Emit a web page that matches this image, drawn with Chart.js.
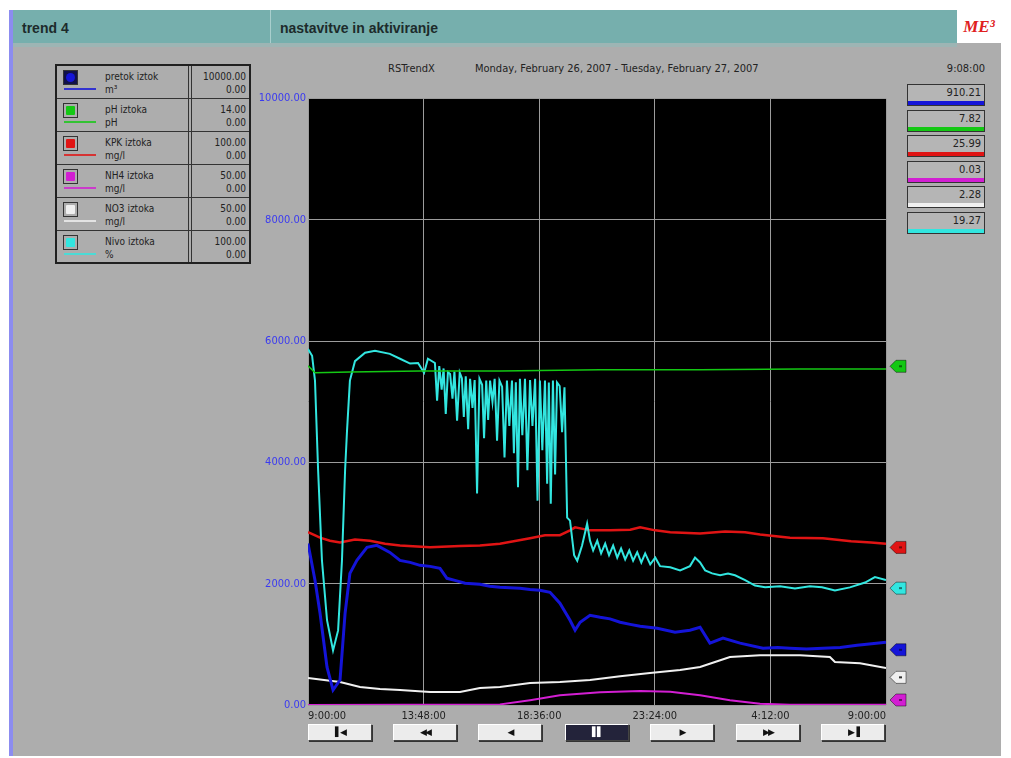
<!DOCTYPE html>
<html>
<head>
<meta charset="utf-8">
<script src="https://cdn.jsdelivr.net/npm/chart.js@4.4.1/dist/chart.umd.min.js"></script>
<style>
  html, body { margin: 0; padding: 0; background: #fff; }
  body { width: 1011px; height: 758px; position: relative; overflow: hidden;
         font-family: "Liberation Sans Narrow", "DejaVu Sans Condensed", "Liberation Sans", sans-serif; }
  #screen { position: absolute; left: 9px; top: 10px; width: 992px; height: 746px; background: #adadad; }
  #stripe { position: absolute; left: 9px; top: 10px; width: 4px; height: 746px; background: #8c8cf0; }
  #head { position: absolute; left: 13px; top: 10px; width: 944px; height: 33px; background: #76afad;
          border-bottom: 4px solid #9db5b4; }
  #head .cell { position: absolute; top: 0; height: 33px; font: bold 14px "Liberation Sans", Arial, sans-serif;
                line-height: 36px; color: #1d2b2b; }
  #divider { position: absolute; left: 257px; top: 0; width: 1px; height: 33px; background: #a9cfcd; }
  #logo { position: absolute; left: 957px; top: 10px; width: 44px; height: 33px; background: #fff;
          color: #e02020; font: italic bold 17px "Liberation Serif", serif; line-height: 33px; text-align: center; }
  #legend { position: absolute; left: 55px; top: 64px; width: 192px; height: 196px; border: 2px solid #202020; }
  .row { position: absolute; left: 0; width: 192px; height: 33px; border-bottom: 1px solid #333; box-sizing: border-box; }
  .row .ico { position: absolute; left: 6px; top: 4px; width: 13px; height: 13px; border: 1px solid #333; }
  .row .ln { position: absolute; left: 7px; top: 22px; width: 32px; height: 2px; }
  .row .t { position: absolute; left: 48px; font-size: 10px; color: #222; line-height: 11px; }
  .row .v { position: absolute; right: 3px; font-size: 10px; color: #222; line-height: 11px; text-align: right; }
  #sep { position: absolute; left: 131px; top: 0; width: 2px; height: 196px; border-left: 1px solid #333; border-right: 1px solid #333; }
  .vbox { position: absolute; left: 907px; width: 76px; height: 20px; border: 1px solid #333; background: #b5b5b5; }
  .vbox span { position: absolute; right: 3px; top: 1px; font-size: 11px; color: #222; }
  .vbox i { position: absolute; left: 0; right: 0; bottom: 0; height: 4px; }
  #chartWrap { position: absolute; left: 240px; top: 90px; width: 700px; height: 652px; }
  .btn { position: absolute; top: 724px; width: 62px; height: 15px; background: #ececec;
         border: 1px solid #444; border-top-color: #fff; border-left-color: #fff; box-shadow: 1px 1px 0 #333;
         font: 9px "DejaVu Sans", sans-serif; line-height: 15px; text-align: center; color: #111; letter-spacing: -2px; }
  .btn.dark { background: #23233a; color: #fff; }
</style>
</head>
<body>
<div id="screen"></div>
<div id="stripe"></div>
<div id="head">
  <div class="cell" style="left:9px">trend 4</div>
  <div id="divider"></div>
  <div class="cell" style="left:267px">nastavitve in aktiviranje</div>
</div>
<div id="logo">ME³</div>
<div id="legend"><div id="sep"></div></div>
<div style="position:absolute;left:388px;top:62px;font-size:11px;color:#222">RSTrendX</div>
<div style="position:absolute;left:475px;top:62px;font-size:11px;color:#222">Monday, February 26, 2007 - Tuesday, February 27, 2007</div>
<div style="position:absolute;left:930px;top:62px;width:55px;text-align:right;font-size:11px;color:#222">9:08:00</div>
<div id="boxes"></div>
<div id="chartWrap"><canvas id="trend"></canvas></div>
<div id="buttons"></div>

<script>
// vrednosti odčitane s slike (čas v urah od 9:00:00)
const tickHours = [0, 4.8, 9.6, 14.4, 19.2, 24];
const tickLabels = ['9:00:00', '13:48:00', '18:36:00', '23:24:00', '4:12:00', '9:00:00'];
const yTicks = [0, 2000, 4000, 6000, 8000, 10000];

const seriesNames = ['pretok iztok', 'pH iztoka', 'KPK iztoka', 'NH4 iztoka', 'NO3 iztoka', 'Nivo iztoka'];
const seriesUnits = ['m³', 'pH', 'mg/l', 'mg/l', 'mg/l', '%'];
const seriesMax = [10000, 14, 100, 50, 50, 100];
const seriesMin = [0, 0, 0, 0, 0, 0];
const currentValues = [910.21, 7.82, 25.99, 0.03, 2.28, 19.27];
const seriesColors = ['#1414d8', '#14c814', '#e01414', '#d21ed2', '#f0f0f0', '#32e6e0'];

const pretokT = [0, 0.29, 0.5, 0.79, 1.04, 1.33, 1.54, 1.74, 2.03, 2.45, 2.86, 3.4, 3.82, 4.24, 4.65, 5.07, 5.48, 5.77, 6.1, 6.52, 7.14, 7.55, 7.97, 8.38, 8.8, 9.22, 9.63, 10.05, 10.46, 10.88, 11.09, 11.3, 11.71, 12.13, 12.54, 12.96, 13.38, 13.79, 14.5, 15.24, 15.86, 16.28, 16.69, 17.23, 17.94, 18.89, 19.5, 20.01, 20.7, 21.38, 22.1, 22.8, 23.4, 24];
const pretokV = [2664, 2056, 1513, 625, 247, 411, 1513, 2171, 2385, 2599, 2632, 2516, 2385, 2352, 2303, 2286, 2253, 2089, 2056, 2007, 1990, 1960, 1941, 1935, 1924, 1905, 1891, 1859, 1678, 1398, 1234, 1365, 1480, 1447, 1420, 1365, 1330, 1299, 1266, 1201, 1234, 1283, 1020, 1102, 1020, 937, 950, 937, 925, 937, 950, 987, 1010, 1036];

const phT = [0, 0.15, 0.29, 1.74, 4.65, 7.97, 12.13, 16.28, 20.43, 24];
const phV = [7.83, 7.75, 7.67, 7.69, 7.71, 7.71, 7.74, 7.74, 7.76, 7.76];

const kpkT = [0, 0.5, 0.91, 1.33, 1.95, 2.57, 3.2, 3.82, 5.07, 6.31, 7.14, 7.97, 9.22, 9.84, 10.46, 10.88, 11.09, 11.71, 12.54, 13.38, 13.79, 14.42, 15.04, 16.28, 17.32, 18.15, 18.77, 20.01, 21.38, 22.55, 23.38, 24];
const kpkV = [28.5, 27.6, 27.1, 26.8, 27.3, 27.1, 26.6, 26.3, 26.0, 26.2, 26.3, 26.6, 27.5, 28.0, 28.0, 28.8, 29.3, 28.8, 28.8, 28.9, 29.3, 28.8, 28.5, 28.3, 28.6, 28.5, 28.1, 27.6, 27.5, 27.0, 26.8, 26.6];

const nh4T = [0, 7.97, 9.22, 10.46, 12.13, 13.79, 15.04, 16.28, 17.52, 18.77, 20.01, 24];
const nh4V = [0, 0.05, 0.4, 0.8, 1.05, 1.15, 1.1, 0.8, 0.4, 0.1, 0.02, 0.03];

const no3T = [0, 1.33, 2.16, 2.99, 3.82, 5.07, 6.31, 7.14, 7.97, 9.22, 10.46, 11.71, 12.96, 14.2, 15.45, 16.28, 16.9, 17.52, 18.77, 20.43, 21.67, 21.88, 22.92, 24];
const no3V = [2.22, 1.89, 1.48, 1.32, 1.23, 1.07, 1.07, 1.4, 1.48, 1.81, 1.89, 2.06, 2.38, 2.63, 2.88, 3.13, 3.54, 3.95, 4.11, 4.11, 3.95, 3.54, 3.45, 3.04];

const nivoT = [0, 0.17, 0.29, 0.42, 0.58, 0.79, 1.04, 1.25, 1.41, 1.54, 1.62, 1.74, 1.95, 2.37, 2.78, 3.4, 3.82, 4.24, 4.57, 4.82, 4.98,
    5.27, 5.36, 5.45, 5.55, 5.63, 5.72, 5.81, 5.9, 6.0, 6.08, 6.19, 6.3, 6.39, 6.47, 6.55, 6.65, 6.73, 6.83, 6.92, 7.02, 7.12, 7.23, 7.31, 7.4,
    7.48, 7.56, 7.66, 7.75, 7.85, 7.95, 8.06, 8.16, 8.26, 8.36, 8.47, 8.55, 8.63, 8.72, 8.8, 8.9, 9.01, 9.11, 9.22, 9.32, 9.43, 9.53, 9.63,
    9.73, 9.84, 9.93, 10.0, 10.08, 10.17, 10.26, 10.34, 10.45, 10.55, 10.65, 10.76, 10.88,
    11.05, 11.18, 11.38, 11.59, 11.71, 11.84, 12.01, 12.17, 12.34, 12.5, 12.67, 12.84, 13.0, 13.17, 13.34, 13.5, 13.67, 13.84, 14.0, 14.21, 14.42, 14.62, 15.04, 15.45, 15.86, 16.07, 16.28, 16.49, 16.78, 17.11, 17.44, 17.73, 18.15, 18.56, 18.98, 19.6, 20.22, 20.84, 21.34, 21.88, 22.5, 23.13, 23.54, 24];
const nivoV = [58.7, 57.6, 53.5, 38.7, 23.8, 14.0, 9.0, 12.3, 23.8, 38.7, 45.2, 53.5, 56.7, 58.1, 58.4, 57.9, 57.1, 56.3, 56.4, 54.8, 57.1,
    56.4, 50.2, 55.9, 52.0, 55.5, 48.0, 54.9, 54.6, 50.5, 55.0, 46.9, 54.8, 53.9, 47.5, 54.2, 45.5, 53.8, 49.0, 53.6, 34.9, 53.8, 52.8, 44.0, 53.5,
    47.0, 53.5, 50.0, 53.8, 43.6, 53.5, 52.5, 40.8, 53.5, 46.0, 53.5, 41.5, 53.2, 35.9, 53.8, 44.5, 53.8, 38.7, 53.6, 46.0, 53.8, 33.7, 53.5,
    42.0, 53.5, 36.5, 53.2, 33.2, 53.5, 38.0, 53.2, 52.6, 45.0, 52.4, 30.9, 30.4,
    24.7, 23.8, 26.3, 29.9, 27.1, 25.5, 27.1, 25.0, 26.6, 24.7, 26.3, 24.3, 25.8, 24.0, 25.5, 23.8, 25.2, 23.5, 25.0, 23.2, 24.3, 22.9, 22.7, 22.2, 22.9, 24.3, 23.5, 22.2, 21.7, 21.4, 21.7, 21.4, 20.6, 19.7, 19.4, 19.6, 19.2, 19.6, 19.4, 18.9, 19.4, 20.2, 21.1, 20.6];

const seriesTimes = [pretokT, phT, kpkT, nh4T, no3T, nivoT];
const seriesValues = [pretokV, phV, kpkV, nh4V, no3V, nivoV];
const lineWidths = [3, 1.5, 2.5, 2, 2, 2];

// legenda levo zgoraj
const legend = document.getElementById('legend');
seriesNames.forEach((name, i) => {
    const row = document.createElement('div');
    row.className = 'row';
    row.style.top = (i * 33) + 'px';
    if (i === 5) row.style.borderBottom = 'none';
    const icoBg = i === 0 ? 'background:#10104a;' : '';
    row.innerHTML =
        `<div class="ico" style="${icoBg}"><div style="position:absolute;left:2px;top:2px;width:9px;height:9px;border-radius:${i === 0 ? '5px' : '1px'};background:${seriesColors[i]}"></div></div>` +
        `<div class="ln" style="background:${seriesColors[i]};opacity:0.8"></div>` +
        `<div class="t" style="top:5px">${name}</div>` +
        `<div class="t" style="top:18px">${seriesUnits[i]}</div>` +
        `<div class="v" style="top:5px">${seriesMax[i].toFixed(2)}</div>` +
        `<div class="v" style="top:18px">${seriesMin[i].toFixed(2)}</div>`;
    legend.appendChild(row);
});

// trenutne vrednosti desno
const boxes = document.getElementById('boxes');
currentValues.forEach((v, i) => {
    const b = document.createElement('div');
    b.className = 'vbox';
    b.style.top = (84 + i * 25.5) + 'px';
    b.innerHTML = `<span>${v.toFixed(2)}</span><i style="background:${seriesColors[i]}"></i>`;
    boxes.appendChild(b);
});

// gumbi pod grafom
const btnLabels = ['▌◀', '◀◀', '◀', '▌▌', '▶', '▶▶', '▶▐'];
const btnLeft = [308, 393, 478, 565, 650, 736, 821];
btnLabels.forEach((t, i) => {
    const b = document.createElement('div');
    b.className = 'btn' + (i === 3 ? ' dark' : '');
    b.style.left = btnLeft[i] + 'px';
    b.textContent = t;
    document.getElementById('buttons').appendChild(b);
});

const axisIds = ['y', 'yPh', 'yKpk', 'yNh4', 'yNo3', 'yNivo'];

const datasets = seriesNames.map((name, i) => ({
    label: name,
    yAxisID: axisIds[i],
    data: seriesTimes[i].map((t, k) => ({ x: t, y: seriesValues[i][k] })),
    borderColor: seriesColors[i],
    borderWidth: lineWidths[i],
    pointRadius: 0,
    tension: 0,
    order: [1, 0, 3, 4, 5, 2][i]
}));

const scales = {
    x: {
        type: 'linear', min: 0, max: 24,
        afterBuildTicks: axis => { axis.ticks = tickHours.map(v => ({ value: v })); },
        afterFit: s => { s.height = 37; },
        ticks: {
            color: '#222', padding: 5, align: 'inner', maxRotation: 0,
            font: { family: 'Liberation Sans Narrow, DejaVu Sans Condensed, sans-serif', size: 11 },
            callback: v => tickLabels[tickHours.indexOf(v)]
        },
        grid: { color: '#9c9c9c', drawTicks: false },
        border: { display: false }
    },
    y: {
        min: 0, max: 10000,
        afterBuildTicks: axis => { axis.ticks = yTicks.map(v => ({ value: v })); },
        afterFit: s => { s.width = 68; },
        ticks: {
            color: '#3a3af0', padding: 2,
            font: { family: 'Liberation Sans Narrow, DejaVu Sans Condensed, sans-serif', size: 11 },
            callback: v => v.toFixed(2)
        },
        grid: { color: '#9c9c9c', drawTicks: false },
        border: { display: false }
    }
};
axisIds.slice(1).forEach((id, k) => {
    scales[id] = { display: false, min: seriesMin[k + 1], max: seriesMax[k + 1] };
});

// črno ozadje risalne površine
const plotBg = {
    id: 'plotBg',
    beforeDraw(chart) {
        const a = chart.chartArea, c = chart.ctx;
        c.save();
        c.fillStyle = '#000';
        c.fillRect(a.left, a.top, a.right - a.left, a.bottom - a.top);
        c.restore();
    }
};

// oznake trenutnih vrednosti na desnem robu
const endMarkers = {
    id: 'endMarkers',
    afterDraw(chart) {
        const c = chart.ctx, a = chart.chartArea;
        axisIds.forEach((id, i) => {
            let y = chart.scales[id].getPixelForValue(currentValues[i]);
            y = Math.min(y, a.bottom - 5);
            const x0 = a.right + 4;
            c.save();
            c.fillStyle = seriesColors[i];
            c.strokeStyle = 'rgba(0,0,0,0.45)';
            c.beginPath();
            c.moveTo(x0, y);
            c.lineTo(x0 + 6, y - 6);
            c.lineTo(x0 + 16, y - 6);
            c.lineTo(x0 + 16, y + 6);
            c.lineTo(x0 + 6, y + 6);
            c.closePath();
            c.fill();
            c.stroke();
            c.fillStyle = i === 4 ? '#333' : 'rgba(0,0,0,0.5)';
            c.fillRect(x0 + 9, y - 1, 3, 2);
            c.restore();
        });
    }
};

new Chart(document.getElementById('trend'), {
    type: 'line',
    data: { datasets },
    options: {
        responsive: true,
        maintainAspectRatio: false,
        animation: false,
        layout: { padding: { top: 7, right: 54, left: 0, bottom: 0 } },
        plugins: { legend: { display: false }, tooltip: { enabled: false } },
        scales
    },
    plugins: [plotBg, endMarkers]
});
</script>
</body>
</html>
